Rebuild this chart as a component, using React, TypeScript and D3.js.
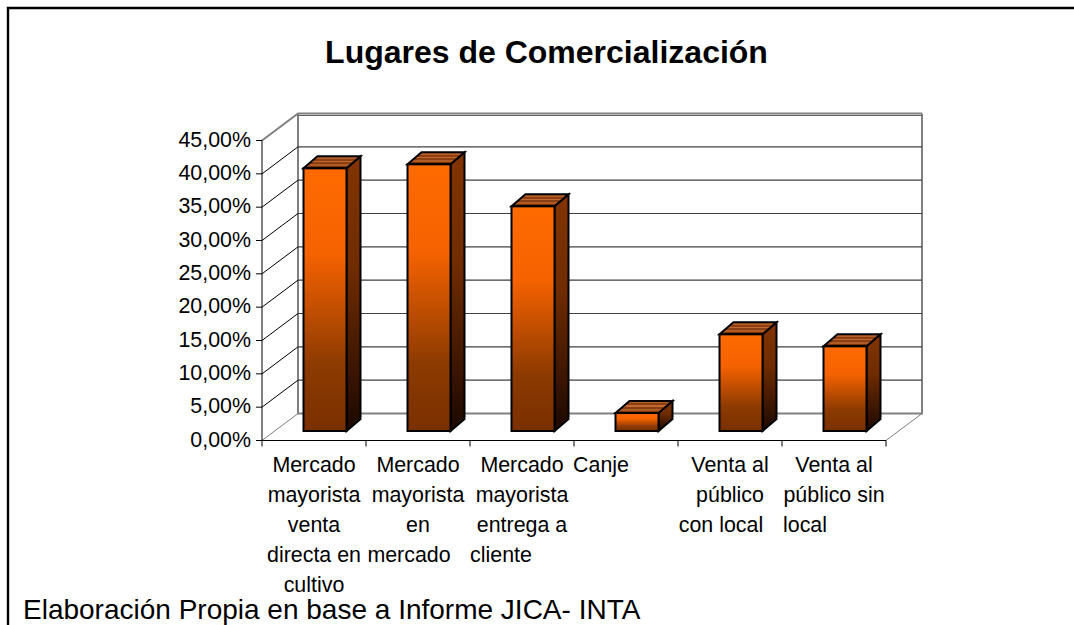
import React from "react";
import * as d3 from "d3";

const title = "Lugares de Comercialización";
const footnote = "Elaboración Propia en base a Informe JICA- INTA";
const categories = ["c1", "c2", "c3", "c4", "c5", "c6"];
const values = [39.4, 40.0, 33.7, 2.7, 14.5, 12.7];
const categoryLabels: string[][] = [
  ["Mercado", "mayorista", "venta", "directa en", "cultivo"],
  ["Mercado", "mayorista", "en", "mercado"],
  ["Mercado", "mayorista", "entrega a", "cliente"],
  ["Canje"],
  ["Venta al", "público", "con local"],
  ["Venta al", "público sin", "local"],
];
const lineShift: Record<string, number> = { "1-3": -9, "2-3": -21, "3-0": -25, "4-2": -9, "5-2": -29 };
const ticks = [0, 5, 10, 15, 20, 25, 30, 35, 40, 45];

const x0 = 262, x1 = 886, y0 = 440.5, y45 = 140.5;
const dx = 36, dy = -27;
const barDx = 14, barDy = -12;
const font = "Liberation Sans, Arial, sans-serif";

export default function App() {
  const x = d3.scaleBand<string>().domain(categories).range([x0, x1]);
  const y = d3.scaleLinear().domain([0, 45]).range([y0, y45]);
  const fmt = (v: number) => v.toFixed(2).replace(".", ",") + "%";
  const line = d3.line();
  const topStops = [
    ["#b65c26", 0, 0.2], ["#8c4012", 0.2, 0.35], ["#c46a30", 0.35, 0.5], ["#8a3f12", 0.5, 0.65], ["#b05a26", 0.65, 0.8], ["#7f3300", 0.8, 1],
  ] as const;
  return (
    <svg width={1074} height={625} style={{ position: "absolute", left: 0, top: 0, background: "#fff" }}>
      <defs>
        <linearGradient id="front" x1="0" y1="0" x2="0" y2="1">
          <stop offset="0" stopColor="#ff6a00" />
          <stop offset="0.33" stopColor="#f56200" />
          <stop offset="0.75" stopColor="#8c3a00" />
          <stop offset="1" stopColor="#7a3000" />
        </linearGradient>
        <linearGradient id="side" x1="0" y1="0" x2="0" y2="1">
          <stop offset="0" stopColor="#823400" />
          <stop offset="0.4" stopColor="#702c00" />
          <stop offset="1" stopColor="#1c0800" />
        </linearGradient>
        <linearGradient id="top" x1="0" y1="0" x2="0" y2="1">
          {topStops.flatMap(([c, a, b], i) => [
            <stop key={i + "a"} offset={a} stopColor={c} />,
            <stop key={i + "b"} offset={b} stopColor={c} />,
          ])}
        </linearGradient>
      </defs>
      <path d="M8 625V8H1074" fill="none" stroke="#000" strokeWidth={2.4} />
      <text x={546.5} y={63} textAnchor="middle" fontFamily={font} fontWeight="bold" fontSize={32} fill="#000">{title}</text>

      {/* back wall and floor */}
      <path d={line([[x0, y45], [x0 + dx, y45 + dy], [x1 + dx, y45 + dy]])!} fill="none" stroke="#808080" strokeWidth={2} />
      <path d={line([[x0 + dx, y45 + dy], [x0 + dx, y0 + dy], [x1 + dx, y0 + dy], [x1 + dx, y45 + dy]])!} fill="none" stroke="#808080" strokeWidth={2} />
      <path d={line([[x0, y0], [x0 + dx, y0 + dy]])!} fill="none" stroke="#808080" strokeWidth={1} />
      <path d={line([[x1, y0], [x1 + dx, y0 + dy]])!} fill="none" stroke="#808080" strokeWidth={1} />
      {ticks.filter((t) => t > 0 && t < 45).map((t) => (
        <g key={t}>
          <path d={line([[x0, y(t)], [x0 + dx, y(t) + dy]])!} fill="none" stroke="#000" strokeWidth={1} />
          <path d={line([[x0 + dx, y(t) + dy], [x1 + dx, y(t) + dy]])!} fill="none" stroke="#404040" strokeWidth={1.2} />
        </g>
      ))}
      <path d={line([[x0 + dx, y(45) + dy + 2], [x1 + dx, y(45) + dy + 2]])!} fill="none" stroke="#606060" strokeWidth={1} />

      {/* axes */}
      <path d={line([[x0, y45], [x0, y0], [x1, y0]])!} fill="none" stroke="#000" strokeWidth={1} />
      {ticks.map((t) => (
        <g key={t}>
          <path d={line([[x0 - 6, y(t)], [x0, y(t)]])!} stroke="#000" />
          <text x={x0 - 11} y={y(t) + 6} textAnchor="end" fontFamily={font} fontSize={21.4} fill="#000">{fmt(t)}</text>
        </g>
      ))}
      {categories.map((c) => (
        <path key={c} d={line([[x(c)!, y0], [x(c)!, y0 + 6]])!} stroke="#000" />
      ))}
      <path d={line([[x1, y0], [x1, y0 + 6]])!} stroke="#000" />

      {/* bars */}
      {categories.map((c, i) => {
        const w = 43;
        const l = x(c)! + 41.5;
        const r = l + w;
        const b = y0 - 9.5;
        const t = b - (y0 - y(values[i]));
        return (
          <g key={c} stroke="#000" strokeWidth={2} strokeLinejoin="miter">
            <path d={line([[r, t], [r + barDx, t + barDy], [r + barDx, b + barDy], [r, b]])! + "Z"} fill="url(#side)" />
            <path d={line([[l, t], [l + barDx, t + barDy], [r + barDx, t + barDy], [r, t]])! + "Z"} fill="url(#top)" />
            <rect x={l} y={t} width={w} height={b - t} fill="url(#front)" />
          </g>
        );
      })}

      {/* category labels */}
      {categories.map((c, i) => {
        const cx = x(c)! + x.bandwidth() / 2;
        return categoryLabels[i].map((s, j) => (
          <text key={j} x={cx + (lineShift[`${i}-${j}`] ?? 0)} y={472 + j * 30}
            textAnchor="middle" fontFamily={font} fontSize={21.4} fill="#000">{s}</text>
        ));
      })}

      <text x={23} y={618.5} fontFamily={font} fontSize={28} fill="#000">{footnote}</text>
    </svg>
  );
}
